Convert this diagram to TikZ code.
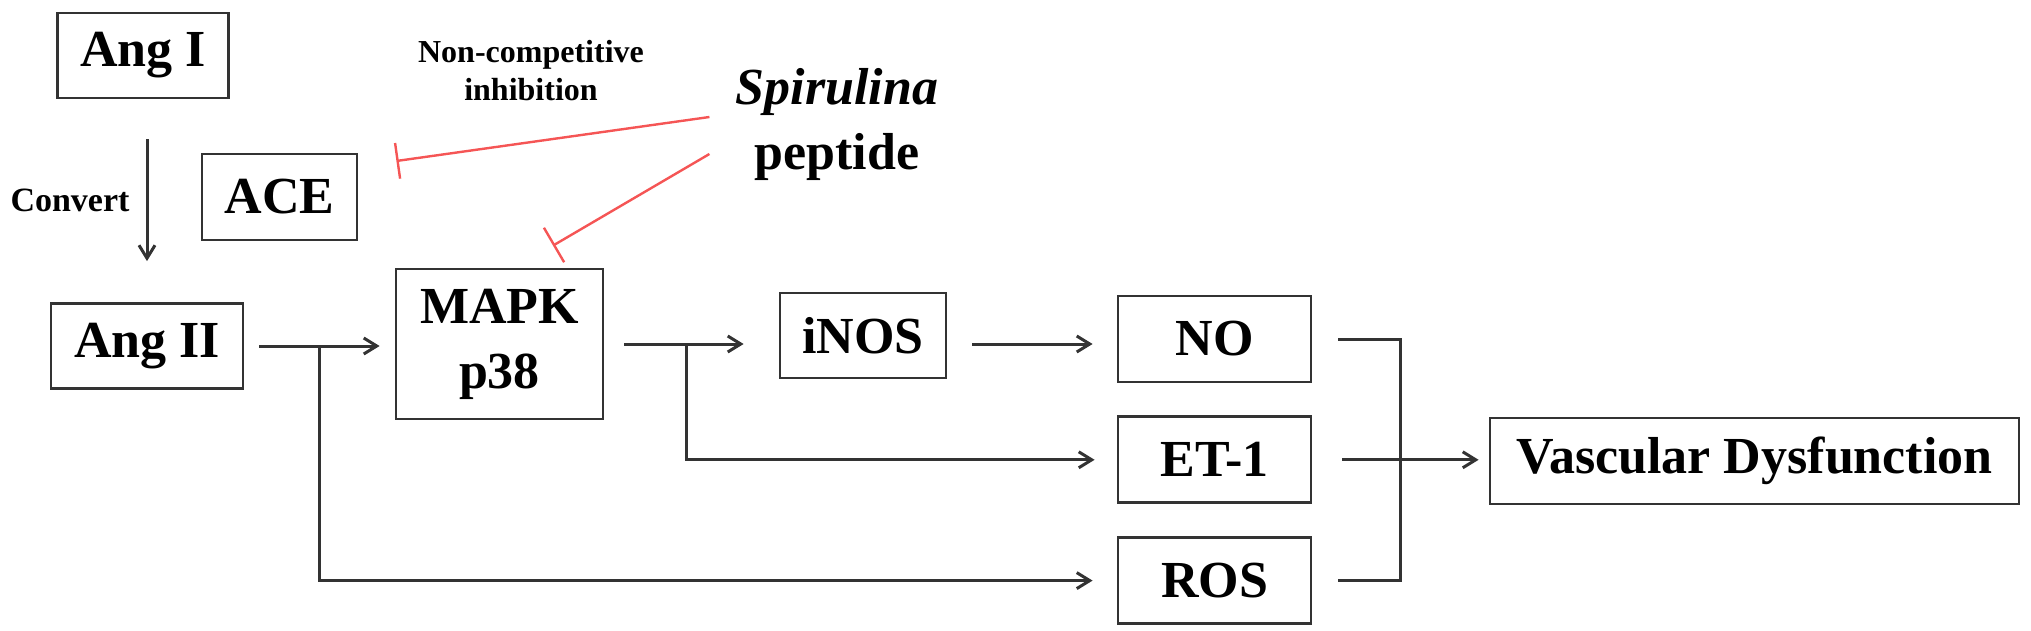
\documentclass[tikz,border=0pt]{standalone}
\usepackage{fontspec}
\setmainfont{Liberation Serif}
\usepackage{xcolor}
\usepackage{tikz}
\usetikzlibrary{arrows.meta, positioning, calc}
\definecolor{inhibred}{RGB}{245,85,85}

\begin{document}
\begin{tikzpicture}[
    x=0.5pt, y=-0.5pt,
    node distance=16pt,
    box/.style={rectangle, draw=black!80, line width=1.4pt, inner sep=0pt, align=center, font=\fontsize{26}{32.5}\selectfont\bfseries},
    agent/.style={align=center, inner sep=0pt, font=\fontsize{26}{32.5}\selectfont\bfseries},
    note/.style={align=center, inner sep=0pt, font=\fontsize{16}{19}\selectfont\bfseries},
    link/.style={line width=1.5pt, draw=black!80, -{Straight Barb[length=6.5pt, width=8pt]}},
    bracket/.style={line width=1.5pt, draw=black!80},
    inhib/.style={line width=1.2pt, draw=inhibred}
]
    \useasboundingbox (0,0) rectangle (2031,631);

    % Upstream: angiotensin
    \node (angI) [box, minimum width=85.5pt, minimum height=42.5pt] at (143,55.5) {Ang I};
    \node (ace) [box, minimum width=77.5pt, minimum height=43pt] at (279.5,197) {ACE};
    \node (angII) [box, minimum width=96pt, minimum height=42.5pt] at (147,346) {Ang II};

    % Spirulina peptide and its targets
    \node (spir) [agent] at (837,124) {\textit{Spirulina}\\peptide};
    \node (noncomp) [note] at (531,71) {Non-competitive\\inhibition};
    \node (mapk) [box, minimum width=103.5pt, minimum height=75pt] at (499.5,344) {MAPK\\p38};
    \node (inos) [box, minimum width=83pt, minimum height=42.5pt] at (863,335.5) {iNOS};

    % Mediators
    \node (no) [box, minimum width=96.5pt, minimum height=43pt] at (1214.5,339) {NO};
    \node (et1) [box, minimum width=96.5pt, minimum height=43pt, below=of no] {ET-1};
    \node (ros) [box, minimum width=96.5pt, minimum height=43pt, below=of et1] {ROS};

    % Outcome
    \node (vd) [box, minimum width=264.5pt, minimum height=43pt] at (1754.5,461) {Vascular Dysfunction};

    % Branch points
    \coordinate (fork1) at ($(angII.east)!0.5!(mapk.west)$);
    \coordinate (fork2) at ($(mapk.east)+(82,0)$);
    \coordinate (merge) at ($(no.east)!0.5!(vd.west)$);

    % Arrows
    \draw [link, shorten <=20pt, shorten >=20.5pt] (angI.south -| angII.north) -- node [note, midway, left=8pt, font=\fontsize{17}{20}\selectfont\bfseries] (convlbl) {Convert} (angII.north);
    \draw [link, shorten <=7.5pt, shorten >=7.5pt] (angII.east) -- (mapk.west |- angII.east);
    \draw [link, shorten >=12pt] (fork1) |- (ros.west);
    \draw [link, shorten <=10pt, shorten >=17.5pt] (mapk.east) -- (inos.west |- mapk.east);
    \draw [link, shorten >=11pt] (fork2) |- (et1.west);
    \draw [link, shorten <=12.5pt, shorten >=12pt] (inos.east |- mapk.east) -- (no.west |- mapk.east);
    \draw [bracket] ([xshift=13pt]no.east) -| (merge) |- ([xshift=13pt]ros.east);
    \draw [link, shorten <=15pt, shorten >=5pt] (et1.east) -- (vd.west |- et1.east);

    % Inhibition
    \draw [inhib, -{Bar[width=18pt]}] ($(spir.west)+(-26,-7)$) -- ($(ace.east)+(38,-36)$);
    \draw [inhib, -{Bar[width=20pt]}] ($(spir.west)+(-26,30)$) -- ($(mapk.north)+(53.5,-22)$);

\end{tikzpicture}
\end{document}
